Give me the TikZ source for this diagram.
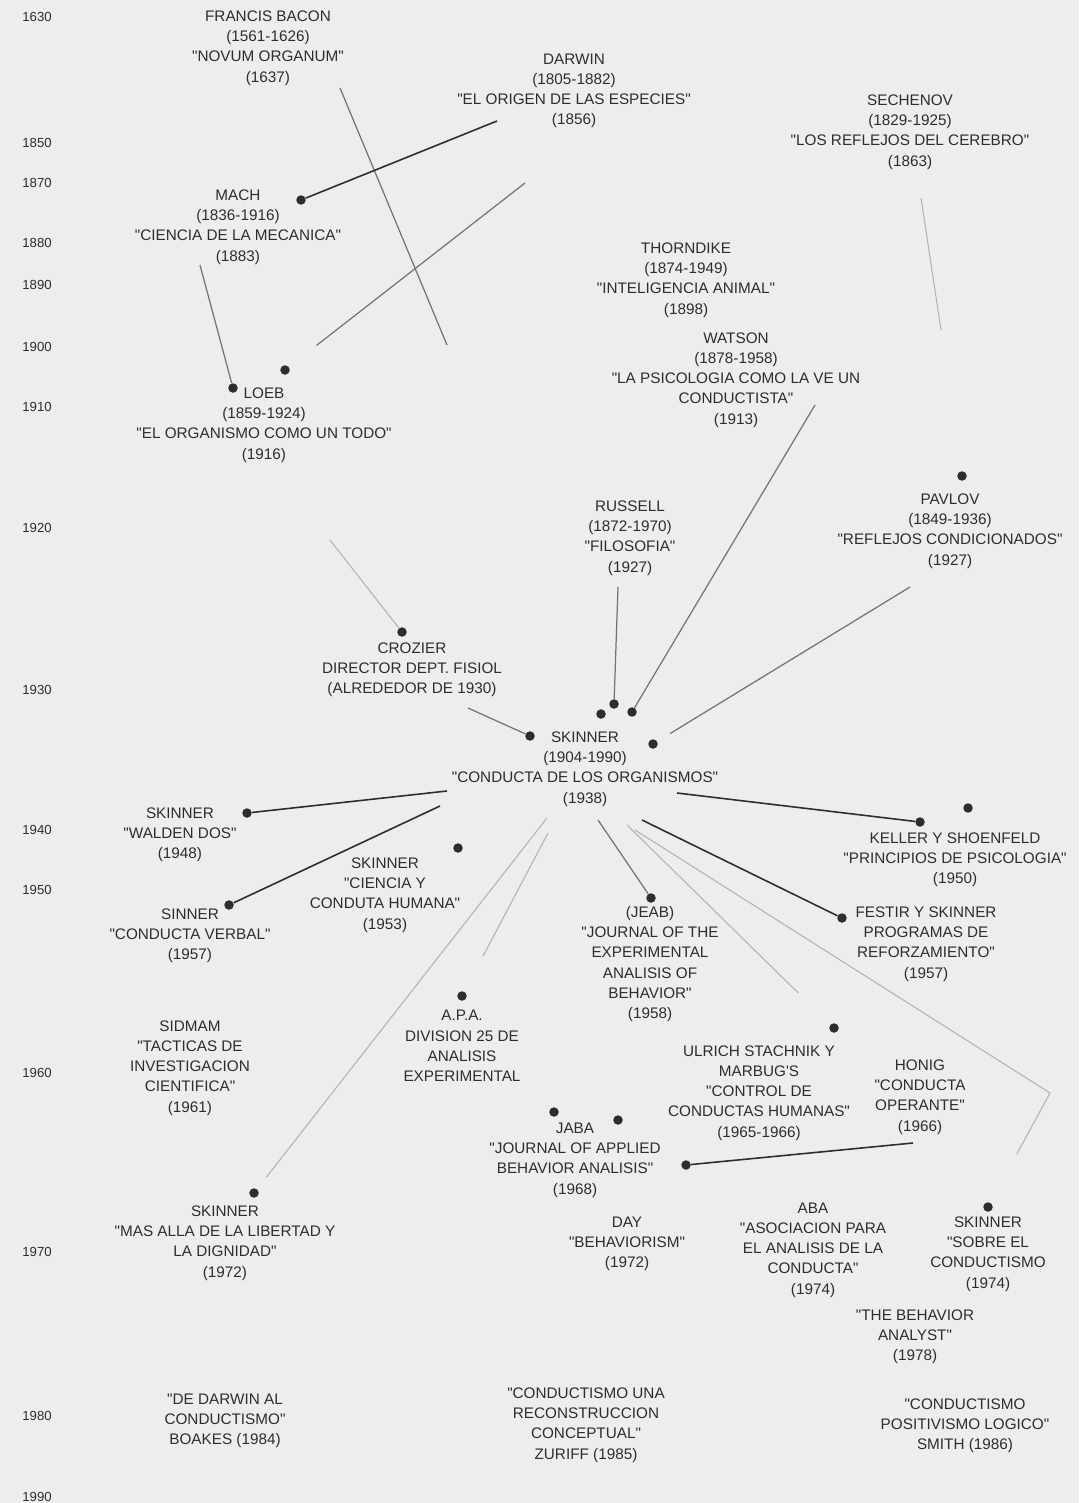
\documentclass[tikz,border=0pt]{standalone}
\usepackage{fontspec}
\setmainfont{Liberation Sans}[Ligatures=TeXOff]
\usepackage{xcolor}
\usepackage{tikz}
\definecolor{papel}{RGB}{237,237,235}
\definecolor{tinta}{RGB}{45,45,45}

\begin{document}
\begin{tikzpicture}[x=0.2mm, y=-0.2mm, font=\fontsize{8.7}{11.5}\selectfont,
  texto/.style={align=center, text=tinta, inner sep=0pt},
  anio/.style={anchor=west, text=tinta, inner sep=0pt, font=\fontsize{7.5}{9}\selectfont},
  punto/.style={circle, fill=tinta, inner sep=0pt, minimum size=1.9mm},
  fuerte/.style={tinta, line width=0.9pt},
  medio/.style={black!55, line width=0.7pt},
  tenue/.style={black!30, line width=0.6pt}]

% Paper
\fill[papel] (0,0) rectangle (1079,1503);

% Years
\node[anio] (a1630) at (22,17) {1630};
\node[anio] (a1850) at (22,143) {1850};
\node[anio] (a1870) at (22,183) {1870};
\node[anio] (a1880) at (22,243) {1880};
\node[anio] (a1890) at (22,285) {1890};
\node[anio] (a1900) at (22,347) {1900};
\node[anio] (a1910) at (22,407) {1910};
\node[anio] (a1920) at (22,528) {1920};
\node[anio] (a1930) at (22,690) {1930};
\node[anio] (a1940) at (22,830) {1940};
\node[anio] (a1950) at (22,890) {1950};
\node[anio] (a1960) at (22,1073) {1960};
\node[anio] (a1970) at (22,1252) {1970};
\node[anio] (a1980) at (22,1416) {1980};
\node[anio] (a1990) at (22,1497) {1990};

% Authors and works
\node[texto] (bacon) at (268,48) {FRANCIS BACON\\(1561-1626)\\"NOVUM ORGANUM"\\(1637)};
\node[texto] (darwin) at (574,91) {DARWIN\\(1805-1882)\\"EL ORIGEN DE LAS ESPECIES"\\(1856)};
\node[texto] (sechenov) at (910,132) {SECHENOV\\(1829-1925)\\"LOS REFLEJOS DEL CEREBRO"\\(1863)};
\node[texto] (mach) at (238,227) {MACH\\(1836-1916)\\"CIENCIA DE LA MECANICA"\\(1883)};
\node[texto] (thorndike) at (686,280) {THORNDIKE\\(1874-1949)\\"INTELIGENCIA ANIMAL"\\(1898)};
\node[texto] (watson) at (736,380) {WATSON\\(1878-1958)\\"LA PSICOLOGIA COMO LA VE UN\\CONDUCTISTA"\\(1913)};
\node[texto] (loeb) at (264,425) {LOEB\\(1859-1924)\\"EL ORGANISMO COMO UN TODO"\\(1916)};
\node[texto] (russell) at (630,538) {RUSSELL\\(1872-1970)\\"FILOSOFIA"\\(1927)};
\node[texto] (pavlov) at (950,531) {PAVLOV\\(1849-1936)\\"REFLEJOS CONDICIONADOS"\\(1927)};
\node[texto] (crozier) at (412,670) {CROZIER\\DIRECTOR DEPT. FISIOL\\(ALREDEDOR DE 1930)};
\node[texto] (skinner) at (585,769) {SKINNER\\(1904-1990)\\"CONDUCTA DE LOS ORGANISMOS"\\(1938)};
\node[texto] (walden) at (180,835) {SKINNER\\"WALDEN DOS"\\(1948)};
\node[texto] (ciencia) at (385,895) {SKINNER\\"CIENCIA Y\\CONDUTA HUMANA"\\(1953)};
\node[texto] (verbal) at (190,936) {SINNER\\"CONDUCTA VERBAL"\\(1957)};
\node[texto] (keller) at (955,860) {KELLER Y SHOENFELD\\"PRINCIPIOS DE PSICOLOGIA"\\(1950)};
\node[texto] (festir) at (926,944) {FESTIR Y SKINNER\\PROGRAMAS DE\\REFORZAMIENTO"\\(1957)};
\node[texto] (jeab) at (650,964) {(JEAB)\\"JOURNAL OF THE\\EXPERIMENTAL\\ANALISIS OF\\BEHAVIOR"\\(1958)};
\node[texto] (apa) at (462,1046) {A.P.A.\\DIVISION 25 DE\\ANALISIS\\EXPERIMENTAL};
\node[texto] (sidmam) at (190,1068) {SIDMAM\\"TACTICAS DE\\INVESTIGACION\\CIENTIFICA"\\(1961)};
\node[texto] (ulrich) at (759,1093) {ULRICH STACHNIK Y\\MARBUG'S\\"CONTROL DE\\CONDUCTAS HUMANAS"\\(1965-1966)};
\node[texto] (honig) at (920,1097) {HONIG\\"CONDUCTA\\OPERANTE"\\(1966)};
\node[texto] (jaba) at (575,1160) {JABA\\"JOURNAL OF APPLIED\\BEHAVIOR ANALISIS"\\(1968)};
\node[texto] (masalla) at (225,1243) {SKINNER\\"MAS ALLA DE LA LIBERTAD Y\\LA DIGNIDAD"\\(1972)};
\node[texto] (day) at (627,1244) {DAY\\"BEHAVIORISM"\\(1972)};
\node[texto] (aba) at (813,1250) {ABA\\"ASOCIACION PARA\\EL ANALISIS DE LA\\CONDUCTA"\\(1974)};
\node[texto] (sobre) at (988,1254) {SKINNER\\"SOBRE EL\\CONDUCTISMO\\(1974)};
\node[texto] (analyst) at (915,1337) {"THE BEHAVIOR\\ANALYST"\\(1978)};
\node[texto] (boakes) at (225,1421) {"DE DARWIN AL\\CONDUCTISMO"\\BOAKES (1984)};
\node[texto] (zuriff) at (586,1425) {"CONDUCTISMO UNA\\RECONSTRUCCION\\CONCEPTUAL"\\ZURIFF (1985)};
\node[texto] (smith) at (965,1426) {"CONDUCTISMO\\POSITIVISMO LOGICO"\\SMITH (1986)};

% Dots
\node[punto] (p-mach) at (301,200) {};
\node[punto] (p-loeb1) at (233,388) {};
\node[punto] (p-loeb2) at (285,370) {};
\node[punto] (p-pavlov) at (962,476) {};
\node[punto] (p-crozier) at (402,632) {};
\node[punto] (p-sk1) at (530,736) {};
\node[punto] (p-sk2) at (601,714) {};
\node[punto] (p-sk3) at (614,704) {};
\node[punto] (p-sk4) at (632,712) {};
\node[punto] (p-sk5) at (653,744) {};
\node[punto] (p-walden) at (247,813) {};
\node[punto] (p-ciencia) at (458,848) {};
\node[punto] (p-verbal) at (229,905) {};
\node[punto] (p-keller) at (920,822) {};
\node[punto] (p-keller2) at (968,808) {};
\node[punto] (p-festir) at (842,918) {};
\node[punto] (p-jeab) at (651,898) {};
\node[punto] (p-apa) at (462,996) {};
\node[punto] (p-ulrich) at (834,1028) {};
\node[punto] (p-jaba1) at (554,1112) {};
\node[punto] (p-jaba2) at (618,1120) {};
\node[punto] (p-jaba3) at (686,1165) {};
\node[punto] (p-masalla) at (254,1193) {};
\node[punto] (p-sobre) at (988,1207) {};

% Line ends next to the texts
\coordinate (c-bacon) at (340,88);
\coordinate (c-bacon-fin) at (447,345);
\coordinate (c-darwin-a) at (497,121);
\coordinate (c-darwin-b) at (525,183);
\coordinate (c-mach) at (200,265);
\coordinate (c-sech-a) at (921,198);
\coordinate (c-sech-b) at (941,330);
\coordinate (c-watson) at (815,405);
\coordinate (c-russell) at (618,587);
\coordinate (c-pavlov) at (910,587);
\coordinate (c-loeb) at (330,540);
\coordinate (c-crozier) at (468,708);
\coordinate (c-sk-a) at (447,791);
\coordinate (c-sk-b) at (440,806);
\coordinate (c-sk-c) at (547,818);
\coordinate (c-sk-d) at (548,833);
\coordinate (c-sk-e) at (598,820);
\coordinate (c-sk-f) at (627,825);
\coordinate (c-sk-g) at (635,830);
\coordinate (c-codo) at (1050,1093);
\coordinate (c-sk-h) at (642,820);
\coordinate (c-sk-i) at (677,793);
\coordinate (c-honig) at (913,1143);

% Connectors, upper part
\draw[medio] (c-bacon) -- (c-bacon-fin);
\draw[fuerte] (c-darwin-a) -- (p-mach);
\draw[medio, shorten >=7mm] (c-darwin-b) -- (p-loeb2);
\draw[medio] (c-mach) -- (p-loeb1);
\draw[tenue] (c-sech-a) -- (c-sech-b);
\draw[medio] (c-watson) -- (p-sk4);
\draw[medio] (c-russell) -- (p-sk3);
\draw[medio, shorten >=3mm] (c-pavlov) -- (p-sk5);
\draw[tenue] (c-loeb) -- (p-crozier);
\draw[medio] (c-crozier) -- (p-sk1);

% Connectors, lower part
\draw[fuerte] (c-sk-a) -- (p-walden);
\draw[fuerte] (c-sk-b) -- (p-verbal);
\draw[tenue, shorten >=3mm] (c-sk-c) -- (p-masalla);
\draw[tenue, shorten >=8mm] (c-sk-d) -- (p-apa);
\draw[medio] (c-sk-e) -- (p-jeab);
\draw[tenue, shorten >=9mm] (c-sk-f) -- (p-ulrich);
\draw[tenue, shorten >=11mm] (c-sk-g) -- (c-codo) -- (p-sobre);
\draw[fuerte] (c-sk-h) -- (p-festir);
\draw[fuerte] (c-sk-i) -- (p-keller);
\draw[fuerte] (c-honig) -- (p-jaba3);

\end{tikzpicture}
\end{document}
